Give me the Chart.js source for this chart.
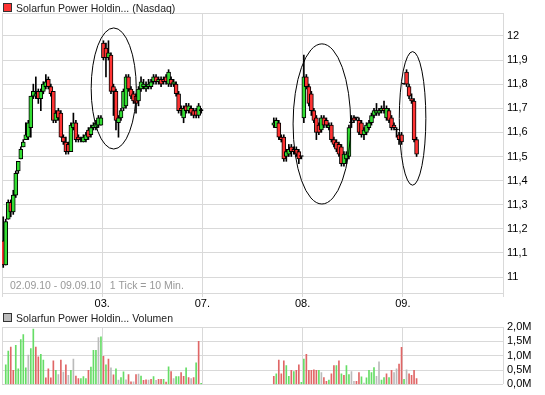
<!DOCTYPE html>
<html>
<head>
<meta charset="utf-8">
<script src="https://cdn.jsdelivr.net/npm/chart.js@4.4.1/dist/chart.umd.min.js"></script>
<style>
  body { margin: 0; background: #fff; }
  #wrap { position: relative; width: 545px; height: 395px; }
  canvas { position: absolute; left: 0; }
</style>
</head>
<body>
<div id="wrap">
  <canvas id="graph_price" width="545" height="310" style="top:0"></canvas>
  <canvas id="graph_volume" width="545" height="85" style="top:310px"></canvas>
</div>
<script>
const price_title = 'Solarfun Power Holdin... (Nasdaq)';
const volume_title = 'Solarfun Power Holdin... Volumen';
const range_note = '02.09.10 - 09.09.10   1 Tick = 10 Min.';

const day_labels = ['02.', '03.', '07.', '08.', '09.'];
const slots_per_day = 40; // 10-Minuten-Ticks pro Handelstag
const day_first_slot = [0, 0, 28, 0, 0]; // erster Tick mit Kurs innerhalb des Tages

const price_ticks = [11, 11.1, 11.2, 11.3, 11.4, 11.5, 11.6, 11.7, 11.8, 11.9, 12];
const price_tick_labels = ['11', '11,1', '11,2', '11,3', '11,4', '11,5', '11,6', '11,7', '11,8', '11,9', '12'];
const price_min = 10.934;
const price_max = 12.095;
const volume_ticks = [0, 0.5, 1, 1.5, 2];
const volume_tick_labels = ['0,0M', '0,5M', '1,0M', '1,5M', '2,0M'];

// Kerzen je Tag: [open, high, low, close]
const candles_0209 = [
  [11.15, 11.25, 11.04, 11.05], [11.05, 11.24, 11.05, 11.23], [11.24, 11.32, 11.24, 11.31], [11.31, 11.32, 11.25, 11.27],
  [11.27, 11.36, 11.26, 11.34], [11.34, 11.44, 11.33, 11.43], [11.44, 11.48, 11.43, 11.48], [11.49, 11.54, 11.49, 11.53],
  [11.54, 11.57, 11.54, 11.56], [11.57, 11.64, 11.57, 11.59], [11.58, 11.65, 11.57, 11.64], [11.62, 11.75, 11.58, 11.75],
  [11.75, 11.80, 11.74, 11.77], [11.75, 11.83, 11.74, 11.76], [11.77, 11.78, 11.72, 11.74], [11.74, 11.78, 11.69, 11.77],
  [11.77, 11.81, 11.76, 11.80], [11.79, 11.84, 11.78, 11.81], [11.82, 11.83, 11.78, 11.79], [11.79, 11.80, 11.75, 11.76],
  [11.77, 11.77, 11.64, 11.65], [11.65, 11.69, 11.64, 11.68], [11.69, 11.70, 11.65, 11.66], [11.68, 11.69, 11.58, 11.58],
  [11.58, 11.59, 11.55, 11.56], [11.56, 11.58, 11.51, 11.52], [11.55, 11.56, 11.51, 11.52], [11.52, 11.64, 11.52, 11.63],
  [11.62, 11.68, 11.61, 11.64], [11.64, 11.65, 11.56, 11.57], [11.58, 11.59, 11.56, 11.57], [11.57, 11.58, 11.56, 11.57],
  [11.56, 11.59, 11.56, 11.58], [11.57, 11.60, 11.56, 11.59], [11.61, 11.62, 11.57, 11.58], [11.59, 11.63, 11.58, 11.62],
  [11.62, 11.64, 11.61, 11.63], [11.62, 11.65, 11.61, 11.64], [11.63, 11.67, 11.62, 11.66], [11.63, 11.67, 11.63, 11.66]
];
const candles_0309 = [
  [11.97, 11.98, 11.90, 11.91], [11.95, 11.97, 11.83, 11.91], [11.91, 11.98, 11.90, 11.93], [11.92, 11.93, 11.76, 11.77],
  [11.79, 11.80, 11.67, 11.77], [11.77, 11.78, 11.61, 11.65], [11.64, 11.67, 11.58, 11.66], [11.66, 11.70, 11.65, 11.69],
  [11.70, 11.78, 11.69, 11.77], [11.71, 11.84, 11.70, 11.83], [11.83, 11.84, 11.77, 11.78], [11.78, 11.79, 11.74, 11.75],
  [11.76, 11.77, 11.72, 11.73], [11.75, 11.76, 11.68, 11.72], [11.73, 11.79, 11.71, 11.78], [11.78, 11.83, 11.77, 11.81],
  [11.79, 11.82, 11.78, 11.80], [11.78, 11.81, 11.77, 11.79], [11.79, 11.82, 11.78, 11.80], [11.79, 11.82, 11.78, 11.81],
  [11.81, 11.84, 11.80, 11.83], [11.83, 11.84, 11.80, 11.81], [11.81, 11.83, 11.80, 11.82], [11.82, 11.83, 11.79, 11.80],
  [11.82, 11.83, 11.80, 11.81], [11.83, 11.84, 11.80, 11.81], [11.80, 11.86, 11.79, 11.85], [11.82, 11.83, 11.79, 11.80],
  [11.80, 11.82, 11.79, 11.81], [11.80, 11.81, 11.75, 11.76], [11.76, 11.77, 11.68, 11.69], [11.70, 11.71, 11.67, 11.69],
  [11.66, 11.71, 11.64, 11.70], [11.71, 11.72, 11.68, 11.69], [11.69, 11.72, 11.68, 11.71], [11.70, 11.71, 11.67, 11.68],
  [11.69, 11.70, 11.66, 11.67], [11.69, 11.70, 11.66, 11.67], [11.67, 11.72, 11.66, 11.71], [11.69, 11.70, 11.68, 11.69]
];
const candles_0709 = [
  [11.63, 11.66, 11.62, 11.64], [11.62, 11.66, 11.62, 11.65], [11.64, 11.65, 11.57, 11.58], [11.58, 11.59, 11.56, 11.57],
  [11.58, 11.59, 11.48, 11.49], [11.50, 11.53, 11.48, 11.52], [11.51, 11.55, 11.50, 11.53], [11.54, 11.55, 11.50, 11.52],
  [11.53, 11.54, 11.51, 11.52], [11.53, 11.54, 11.50, 11.51], [11.52, 11.53, 11.47, 11.49], [11.50, 11.50, 11.49, 11.50]
];
const candles_0809 = [
  [11.66, 11.92, 11.64, 11.83], [11.83, 11.84, 11.78, 11.79], [11.79, 11.80, 11.71, 11.72], [11.76, 11.77, 11.67, 11.69],
  [11.69, 11.70, 11.64, 11.65], [11.66, 11.67, 11.57, 11.60], [11.63, 11.64, 11.59, 11.60], [11.61, 11.67, 11.60, 11.66],
  [11.66, 11.67, 11.62, 11.63], [11.65, 11.66, 11.62, 11.63], [11.62, 11.64, 11.61, 11.63], [11.63, 11.64, 11.56, 11.57],
  [11.57, 11.58, 11.54, 11.55], [11.56, 11.57, 11.52, 11.53], [11.55, 11.56, 11.50, 11.51], [11.54, 11.55, 11.46, 11.47],
  [11.47, 11.52, 11.46, 11.51], [11.49, 11.52, 11.47, 11.51], [11.50, 11.63, 11.49, 11.62], [11.64, 11.67, 11.62, 11.64],
  [11.66, 11.67, 11.64, 11.65], [11.66, 11.66, 11.65, 11.66], [11.65, 11.66, 11.59, 11.60], [11.64, 11.65, 11.58, 11.59],
  [11.59, 11.62, 11.57, 11.61], [11.60, 11.64, 11.59, 11.63], [11.62, 11.65, 11.61, 11.64], [11.64, 11.68, 11.63, 11.67],
  [11.67, 11.70, 11.66, 11.69], [11.68, 11.72, 11.67, 11.69], [11.68, 11.70, 11.67, 11.69], [11.69, 11.71, 11.68, 11.70],
  [11.70, 11.73, 11.68, 11.69], [11.66, 11.71, 11.65, 11.70], [11.69, 11.70, 11.64, 11.65], [11.66, 11.67, 11.61, 11.62],
  [11.63, 11.64, 11.61, 11.62], [11.61, 11.62, 11.58, 11.61], [11.59, 11.60, 11.55, 11.57], [11.59, 11.60, 11.55, 11.56]
];
const candles_0909 = [
  [11.80, 11.80, 11.80, 11.80], [11.85, 11.86, 11.79, 11.80], [11.79, 11.80, 11.74, 11.75],
  [11.74, 11.76, 11.72, 11.73], [11.73, 11.74, 11.56, 11.57], [11.57, 11.58, 11.50, 11.51]
];

// Umsatz je Tick in Mio. Stück, Farbe: g = steigend, r = fallend, n = unverändert
const volume_0209 = [0, 0.68, 1.16, 1.30, 0.49, 1.36, 0.54, 1.56, 1.74, 0.58, 1.02, 1.25, 1.93, 1.30, 0.96, 1.05, 0.85, 0.23, 0.54, 0.23,
  0.82, 0.49, 0.34, 0.85, 0.43, 0.68, 0.32, 0.49, 0.88, 0.29, 0.20, 0.20, 0.27, 0.20, 0.49, 0.60, 1.19, 1.19, 1.63, 1.66];
const volume_0309 = [0.98, 0.68, 0.88, 0.58, 0.33, 0.54, 0.15, 0.24, 0.44, 0.16, 0.34, 0.09, 0.09, 0.34, 0.36, 0.29, 0.14, 0.16, 0.15, 0.18,
  0.27, 0.14, 0.18, 0.18, 0.18, 0.08, 0.61, 0.45, 0.20, 0.27, 0.27, 0.41, 0.28, 0.58, 0.24, 0.20, 0.24, 0.75, 1.50, 0.04];
const volume_0709 = [0.28, 0.37, 0.85, 0.37, 0.82, 0.66, 0.28, 0.49, 0.45, 0.49, 0.68, 0.07];
const volume_0809 = [0.88, 1.05, 0.49, 0.49, 0.51, 0.49, 0.49, 0.41, 0.24, 0.11, 0.15, 0.37, 0.66, 0.66, 0.82, 0.37, 0.32, 0.66, 0.34, 0.45,
  0.11, 0.11, 0.41, 0.26, 0.05, 0.23, 0.49, 0.41, 0.59, 0.28, 0.79, 0.15, 0.24, 0.37, 0.24, 0.49, 0.41, 0.54, 0.71, 1.29];
const volume_0909 = [0.18, 0.51, 0.37, 0.32, 0.49, 0.20];
const volume_dir_0209 = 'nggrrgggggnggrrggrrrrgnrnrngnrrgggrgggng';
const volume_dir_0309 = 'rgrnrgnggnrrnrngrrnrgnrrgrgrnggrrgrnrgrg';
const volume_dir_0709 = 'rgrrrggrgrrg';
const volume_dir_0809 = 'grrrrrgnrrgrrgrgrggnnrrgnggggnnggrgrnnrr';
const volume_dir_0909 = 'gnrrrr';

// Ellipsen-Markierungen (x in Ticks, y in Kurs)
const highlight_ellipses = [
  { slot: 44.6, price: 11.782, half_slots: 9.0, half_price: 0.251 },
  { slot: 127.7, price: 11.635, half_slots: 11.5, half_price: 0.332 },
  { slot: 163.9, price: 11.658, half_slots: 5.3, half_price: 0.277 }
];

const candles_by_day = [candles_0209, candles_0309, candles_0709, candles_0809, candles_0909];
const volume_by_day = [volume_0209, volume_0309, volume_0709, volume_0809, volume_0909];
const volume_dir_by_day = [volume_dir_0209, volume_dir_0309, volume_dir_0709, volume_dir_0809, volume_dir_0909];
const total_slots = day_labels.length * slots_per_day;

const color_up = '#33dd33';
const color_down = '#ff3333';
const grid_color = '#d9d9d9';
const volume_colors = { g: '#66dd66', r: '#e06666', n: '#bbbbbb' };

Chart.defaults.font.family = "'Liberation Sans', Arial, sans-serif";
Chart.defaults.font.size = 11;
Chart.defaults.color = '#000';

let wick_data = [];
let body_data = [];
let body_colors = [];
candles_by_day.forEach((candles, day) => {
  candles.forEach((c, j) => {
    const x = day * slots_per_day + day_first_slot[day] + j + 0.5;
    wick_data.push({ x: x, y: [c[2], c[1]] });
    body_data.push({ x: x, y: [c[0], c[3]] });
    body_colors.push(c[3] > c[0] ? color_up : (c[3] < c[0] ? color_down : '#000'));
  });
});

let volume_data = [];
let volume_bar_colors = [];
volume_by_day.forEach((vols, day) => {
  vols.forEach((v, j) => {
    volume_data.push({ x: day * slots_per_day + day_first_slot[day] + j + 0.5, y: v });
    volume_bar_colors.push(volume_colors[volume_dir_by_day[day][j]]);
  });
});

const day_boundaries = [];
for (let d = 0; d <= day_labels.length; d++) day_boundaries.push(d * slots_per_day);

function title_plugin(text, box_color) {
  return {
    id: 'title_box',
    afterDraw(chart) {
      const ctx = chart.ctx;
      ctx.save();
      ctx.fillStyle = box_color;
      ctx.fillRect(3, 3, 9, 9);
      ctx.strokeStyle = '#333';
      ctx.lineWidth = 1;
      ctx.strokeRect(3.5, 3.5, 8, 8);
      ctx.fillStyle = '#222';
      ctx.font = "10.5px 'Liberation Sans', Arial, sans-serif";
      ctx.textBaseline = 'alphabetic';
      ctx.fillText(text, 16, 12);
      ctx.restore();
    }
  };
}

const note_plugin = {
  id: 'range_note',
  afterDraw(chart) {
    const ctx = chart.ctx;
    ctx.save();
    ctx.fillStyle = '#999';
    ctx.font = "10.5px 'Liberation Sans', Arial, sans-serif";
    ctx.fillText(range_note, chart.chartArea.left + 8, chart.chartArea.bottom - 4);
    ctx.restore();
  }
};

const ellipse_plugin = {
  id: 'ellipses',
  afterDatasetsDraw(chart) {
    const { ctx, scales } = chart;
    ctx.save();
    ctx.strokeStyle = '#000';
    ctx.lineWidth = 1;
    highlight_ellipses.forEach(e => {
      const cx = scales.x.getPixelForValue(e.slot);
      const cy = scales.y.getPixelForValue(e.price);
      const rx = Math.abs(scales.x.getPixelForValue(e.slot + e.half_slots) - cx);
      const ry = Math.abs(scales.y.getPixelForValue(e.price + e.half_price) - cy);
      ctx.beginPath();
      ctx.ellipse(cx, cy, rx, ry, 0, 0, Math.PI * 2);
      ctx.stroke();
    });
    ctx.restore();
  }
};

function x_axis(show_labels, axis_height) {
  return {
    type: 'linear',
    min: 0,
    max: total_slots,
    offset: false,
    afterBuildTicks: axis => { axis.ticks = day_boundaries.map(v => ({ value: v })); },
    afterFit: axis => { axis.height = axis_height; },
    grid: { color: grid_color, offset: false, drawTicks: show_labels, tickLength: 4 },
    border: { display: false },
    ticks: {
      display: show_labels,
      autoSkip: false,
      maxRotation: 0,
      padding: 0,
      callback: v => (v > 0 && v < total_slots) ? day_labels[v / slots_per_day] : ''
    }
  };
}

function y_axis(min, max, ticks, labels) {
  const all_ticks = [...new Set([min, ...ticks, max])];
  return {
    position: 'right',
    min: min,
    max: max,
    afterBuildTicks: axis => { axis.ticks = all_ticks.map(v => ({ value: v })); },
    afterFit: axis => { axis.width = 42; },
    grid: { color: grid_color, drawTicks: false },
    border: { display: false },
    ticks: {
      padding: 4,
      autoSkip: false,
      callback: v => { const i = ticks.indexOf(v); return i >= 0 ? labels[i] : ''; }
    }
  };
}

const graph_price = new Chart(document.getElementById('graph_price'), {
  type: 'bar',
  data: {
    datasets: [{
      label: 'Docht',
      data: wick_data,
      backgroundColor: '#000',
      barThickness: 1,
      grouped: false,
      order: 2
    }, {
      label: price_title,
      data: body_data,
      backgroundColor: body_colors,
      borderColor: '#000',
      borderWidth: 1,
      borderSkipped: false,
      barThickness: 4,
      minBarLength: 1,
      grouped: false,
      order: 1
    }]
  },
  options: {
    responsive: false,
    animation: false,
    devicePixelRatio: 1,
    layout: { padding: { left: 2, top: 13, right: 0, bottom: 0 } },
    plugins: { legend: { display: false }, tooltip: { enabled: false } },
    scales: {
      x: x_axis(true, 17),
      y: y_axis(price_min, price_max, price_ticks, price_tick_labels)
    }
  },
  plugins: [title_plugin(price_title, '#ff3333'), note_plugin, ellipse_plugin]
});

const graph_volume = new Chart(document.getElementById('graph_volume'), {
  type: 'bar',
  data: {
    datasets: [{
      label: volume_title,
      data: volume_data,
      backgroundColor: volume_bar_colors,
      barThickness: 1
    }]
  },
  options: {
    responsive: false,
    animation: false,
    devicePixelRatio: 1,
    layout: { padding: { left: 2, top: 17, right: 0, bottom: 0 } },
    plugins: { legend: { display: false }, tooltip: { enabled: false } },
    scales: {
      x: x_axis(false, 9),
      y: y_axis(0, 2, volume_ticks, volume_tick_labels)
    }
  },
  plugins: [title_plugin(volume_title, '#bbbbbb')]
});
</script>
</body>
</html>
